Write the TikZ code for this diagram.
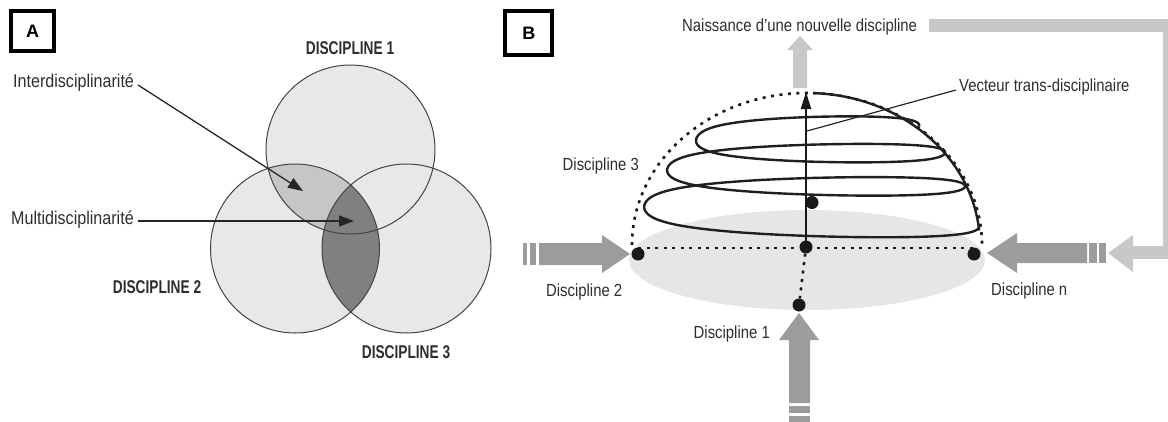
\documentclass[tikz,border=0pt]{standalone}
\usepackage{fontspec}
\setmainfont{Liberation Sans}
\newfontfamily\labfont{Liberation Sans}[FakeStretch=0.85]
\newfontfamily\labfontA{Liberation Sans}[FakeStretch=0.87]
\newfontfamily\capfont{Liberation Sans}[FakeStretch=0.74]
\usetikzlibrary{arrows.meta}
\definecolor{lgray}{HTML}{E8E8E8}
\definecolor{mgray}{HTML}{C6C6C6}
\definecolor{dgray}{HTML}{808080}
\definecolor{arrdark}{HTML}{9C9C9C}
\definecolor{arrlight}{HTML}{C8C8C8}
\definecolor{txt}{HTML}{2E2E2E}
\definecolor{circline}{HTML}{444444}
\definecolor{ellfill}{HTML}{E6E6E6}
\tikzset{
  lab/.style={inner sep=0pt, text=txt, font=\labfont\fontsize{17.5}{20}\selectfont},
  labA/.style={inner sep=0pt, text=txt, font=\labfontA\fontsize{18.5}{20}\selectfont},
  dlab/.style={inner sep=0pt, text=txt, font=\capfont\bfseries\fontsize{18.5}{20}\selectfont},
  panelbox/.style={draw=black, line width=4pt, inner sep=0pt, font=\bfseries\fontsize{18}{20}\selectfont},
  circ/.style={draw=circline, line width=1pt},
  thinarrow/.style={draw=black!85, line width=1.3pt, -{Triangle[length=15pt,width=11pt]}},
  dotline/.style={draw=black!90, line width=2.6pt, dash pattern=on 3pt off 5.5pt},
  bigdark/.style={fill=arrdark},
  biglight/.style={fill=arrlight},
  dotnode/.style={circle, fill=black!90, minimum size=13pt, inner sep=0pt},
  helix/.style={draw=black!88, line width=2.4pt, line join=round},
  vecarrow/.style={draw=black!90, line width=2.2pt, -{Triangle[length=17pt,width=10pt]}},
  leader/.style={draw=black!85, line width=1.2pt},
}
\begin{document}
\begin{tikzpicture}[x=1pt,y=-1pt]
\useasboundingbox (0,0) rectangle (1168,421);
\fill[white] (0,0) rectangle (1168,421);

% ================= Panel A =================
\node[panelbox, minimum width=42.7pt, minimum height=39.4pt] (boxA) at (32.7,31) {A};

\coordinate (c1) at (350.5,149.5);
\coordinate (c2) at (295,248.5);
\coordinate (c3) at (406.5,248.5);
\fill[lgray] (c1) circle[radius=84.5];
\fill[lgray] (c2) circle[radius=84.5];
\fill[lgray] (c3) circle[radius=84.5];
\begin{scope}
  \clip (c1) circle[radius=84.5];
  \fill[mgray] (c2) circle[radius=84.5];
\end{scope}
\begin{scope}
  \clip (c2) circle[radius=84.5];
  \fill[dgray] (c3) circle[radius=84.5];
\end{scope}
\draw[circ] (c1) circle[radius=84.5];
\draw[circ] (c2) circle[radius=84.5];
\draw[circ] (c3) circle[radius=84.5];

\node[dlab] (d1) at (350,48.3) {DISCIPLINE 1};
\node[dlab] (d2) at (157,287.5) {DISCIPLINE 2};
\node[dlab] (d3) at (406,352) {DISCIPLINE 3};

\node[labA, anchor=base west] (inter) at (13,87) {Interdisciplinarité};
\node[labA, anchor=base west] (multi) at (11,224) {Multidisciplinarité};
\coordinate (interS) at (138,85);
\coordinate (interT) at (303,191);
\coordinate (multiS) at (138,221);
\coordinate (multiT) at (354,221);
\draw[thinarrow] (interS) -- (interT);
\draw[thinarrow] (multiS) -- (multiT);

% ================= Panel B =================
\node[panelbox, minimum width=47pt, minimum height=44pt] (boxB) at (528.8,33.3) {B};

% base ellipse
\fill[ellfill] (807,260) ellipse[x radius=178, y radius=50];

% feedback light path
\draw[arrlight, line width=13pt] (929,25) -- (1169.5,25) -- (1169.5,252.5) -- (1132,252.5);
\fill[biglight] (1133,235) -- (1108,253) -- (1133,272) -- cycle;

% light up arrow (birth of new discipline)
\fill[biglight] (793,88) -- (793,50) -- (787,50) -- (800,36) -- (813,50) -- (807,50) -- (807,88) -- cycle;

% dark arrow Discipline 2 (pointing right)
\fill[bigdark] (523,243) rectangle (527,265);
\fill[bigdark] (530,243) rectangle (536,265);
\fill[bigdark] (539,243) -- (602,243) -- (602,235) -- (630,254) -- (602,273) -- (602,265) -- (539,265) -- cycle;
% dark arrow Discipline n (pointing left)
\fill[bigdark] (1099,243) rectangle (1106,263);
\fill[bigdark] (1089,243) rectangle (1097,263);
\fill[bigdark] (1087,243) -- (1017,243) -- (1017,233) -- (987,253) -- (1017,273) -- (1017,263) -- (1087,263) -- cycle;
% dark arrow Discipline 1 (pointing up)
\fill[bigdark] (789,406) rectangle (810,413);
\fill[bigdark] (789,416) rectangle (810,423);
\fill[bigdark] (789,403) -- (789,340) -- (779,340) -- (799,313) -- (819,340) -- (810,340) -- (810,403) -- cycle;

% dotted dome
\draw[dotline] (632,245) arc[start angle=180, end angle=360, x radius=175, y radius=152];

% dots
\node[dotnode] (dL) at (638,254) {};
\node[dotnode] (dR) at (974,254) {};
\node[dotnode] (dC) at (806,247) {};
\node[dotnode] (dB) at (799,305) {};
\coordinate (hL) at (638,248);
\coordinate (hR) at (974,248);
\draw[dotline] (hL) -- (hR);
\draw[dotline] (dC) -- (dB);

% helix: right side of dome then spiral
\draw[helix] (813,93.1) arc[start angle=272, end angle=354.5, x radius=173, y radius=152];
\draw[helix] plot[domain=0:3, samples=600, smooth, variable=\u]
  ({807+3*\u + (172-14*\u-3*\u*\u)*(1.0625*cos(360*\u)-0.0625*cos(1080*\u))},
   {227.1 - 44*(\u+0.1273*sin(360*\u)) + 3.5*(\u+0.1273*sin(360*\u))^2 + (26-4.5*\u+0.7*\u*\u)*sin(360*\u)});

% vertical vector
\coordinate (vTip) at (806,92);
\draw[vecarrow] (dC.center) -- (vTip);
\node[dotnode] (dV) at (812,202.5) {};

% labels
\node[lab, anchor=base west] (naiss) at (682,31) {Naissance d’une nouvelle discipline};
\node[lab, anchor=base west] (vect) at (959,91.5) {Vecteur trans-disciplinaire};
\coordinate (vecS) at (807,131);
\coordinate (vecE) at (956,90);
\draw[leader] (vecS) -- (vecE);
\node[lab, anchor=base east] (ld3) at (639,170.5) {Discipline 3};
\node[lab, anchor=base west] (ld2) at (546,296) {Discipline 2};
\node[lab, anchor=base west] (ldn) at (991,295) {Discipline n};
\node[lab, anchor=base east] (ld1) at (770,338) {Discipline 1};
\end{tikzpicture}
\end{document}
